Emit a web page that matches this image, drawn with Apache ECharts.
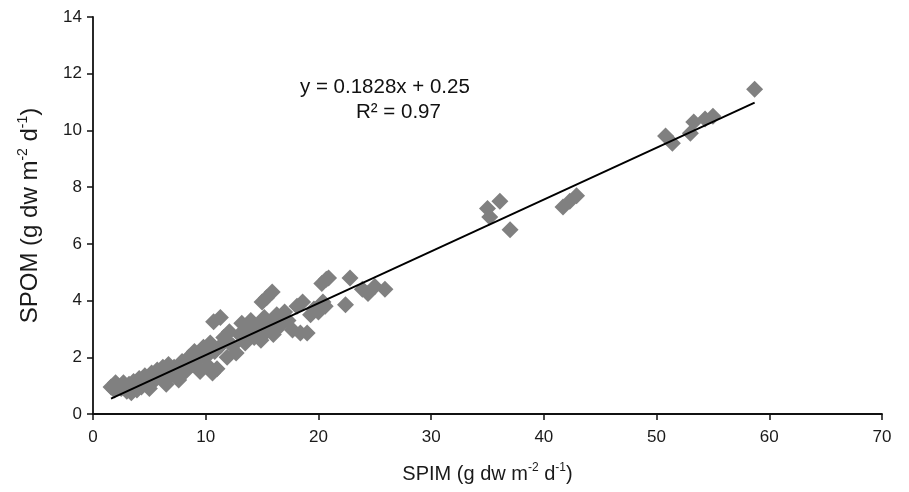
<!DOCTYPE html>
<html>
<head>
<meta charset="utf-8">
<script src="https://cdn.jsdelivr.net/npm/echarts@6/dist/echarts.min.js"></script>
<style>html,body{margin:0;padding:0;background:#fff}#c{width:909px;height:492px}</style>
</head>
<body>
<div id="c"></div>
<script>
// Observed points (SPIM, SPOM)
const spim = [1.6,1.9,2.2,2.5,2.7,3.0,3.2,3.4,3.6,3.9,4.1,4.3,4.6,4.8,5.0,5.2,5.5,5.7,6.0,6.2,6.5,6.7,7.0,7.3,7.6,7.9,8.2,8.5,8.8,9.0,9.3,9.5,9.8,10.0,10.2,10.4,10.6,10.8,11.0,10.7,11.3,11.3,11.6,11.9,12.1,12.4,12.7,13.0,13.2,13.5,13.8,14.0,14.3,14.6,14.9,15.2,15.4,15.7,16.0,16.3,16.6,17.0,17.3,17.7,18.1,18.4,18.6,19.0,19.3,19.6,20.0,20.4,20.6,15.0,15.4,15.9,20.3,20.7,20.9,22.8,22.4,23.9,24.4,25.0,25.9,35.0,35.2,36.1,37.0,41.7,42.3,42.9,50.8,51.4,53.0,53.3,54.3,55.0,58.7,2.0,3.7,5.9,8.4,12.0,13.4,14.8,16.8,9.6,7.2];
const spom = [0.95,0.85,1.0,0.9,1.1,0.8,1.05,0.75,1.15,0.85,1.25,0.95,1.35,1.05,0.9,1.45,1.2,1.55,1.3,1.65,1.05,1.75,1.4,1.6,1.2,1.85,1.5,2.0,1.75,2.2,1.9,1.5,2.35,2.0,1.7,2.5,1.45,2.2,1.6,3.25,3.4,2.4,2.7,2.0,2.9,2.4,2.15,2.8,3.2,2.5,3.0,3.3,2.7,3.1,2.6,3.4,2.9,3.2,2.8,3.5,3.1,3.6,3.3,2.96,3.8,2.86,3.95,2.86,3.5,3.7,3.6,3.95,3.8,3.95,4.1,4.3,4.6,4.75,4.8,4.8,3.85,4.4,4.25,4.5,4.4,7.25,6.95,7.5,6.5,7.3,7.5,7.7,9.8,9.55,9.9,10.3,10.4,10.5,11.45,1.1,1.0,1.45,1.7,2.55,2.6,2.95,3.4,2.05,1.65];
// Regression (as printed on the chart)
const slope = 0.1828, intercept = 0.25;
const trendX = [1.6, 58.7];
const xTicks = [0,10,20,30,40,50,60,70];
const yTicks = [0,2,4,6,8,10,12,14];
const eqText = 'y = 0.1828x + 0.25';
const r2Text = 'R² = 0.97';

const points = spim.map((x,i)=>[x, spom[i]]);
const trend = trendX.map(x=>[x, slope*x+intercept]);

const chart = echarts.init(document.getElementById('c'), null, {renderer:'canvas'});
const fam = 'Liberation Sans, Arial, sans-serif';
chart.setOption({
  animation:false,
  backgroundColor:'#fff',
  grid:{left:93,right:27,top:17,bottom:78,containLabel:false,outerBoundsMode:'none'},
  xAxis:{
    type:'value',min:xTicks[0],max:xTicks[xTicks.length-1],interval:10,
    name:'SPIM (g dw m{sup|-2} d{sup|-1})',nameLocation:'middle',nameGap:48,
    nameTextStyle:{fontFamily:fam,fontSize:20,color:'#1a1a1a',lineHeight:24,
      rich:{sup:{fontSize:12,verticalAlign:'top',lineHeight:24,fontFamily:fam,color:'#1a1a1a'}}},
    axisLine:{show:true,onZero:false,lineStyle:{color:'#111',width:1.8}},
    axisTick:{show:true,inside:false,length:6,lineStyle:{color:'#111',width:1.5}},
    axisLabel:{fontFamily:fam,fontSize:17,color:'#1a1a1a',margin:15},
    splitLine:{show:false}
  },
  yAxis:{
    type:'value',min:yTicks[0],max:yTicks[yTicks.length-1],interval:2,
    name:'SPOM (g dw m{sup|-2} d{sup|-1})',nameLocation:'middle',nameGap:49,nameRotate:90,
    nameTextStyle:{fontFamily:fam,fontSize:24,color:'#1a1a1a',lineHeight:28,
      rich:{sup:{fontSize:14,verticalAlign:'top',lineHeight:28,fontFamily:fam,color:'#1a1a1a'}}},
    axisLine:{show:true,onZero:false,lineStyle:{color:'#111',width:1.8}},
    axisTick:{show:true,inside:false,length:6,lineStyle:{color:'#111',width:1.5}},
    axisLabel:{fontFamily:fam,fontSize:17,color:'#1a1a1a',margin:11},
    splitLine:{show:false}
  },
  series:[
    {type:'scatter',data:points,symbol:'diamond',symbolSize:17,
     itemStyle:{color:'#808080',opacity:1},z:2},
    {type:'line',data:trend,symbol:'none',lineStyle:{color:'#000',width:2},z:3,silent:true}
  ],
  graphic:[
    {type:'text',left:300,top:77,style:{text:eqText,fontFamily:fam,fontSize:20.5,fill:'#111'}},
    {type:'text',left:356,top:102,style:{text:r2Text,fontFamily:fam,fontSize:20.5,fill:'#111'}}
  ]
});
</script>
</body>
</html>
